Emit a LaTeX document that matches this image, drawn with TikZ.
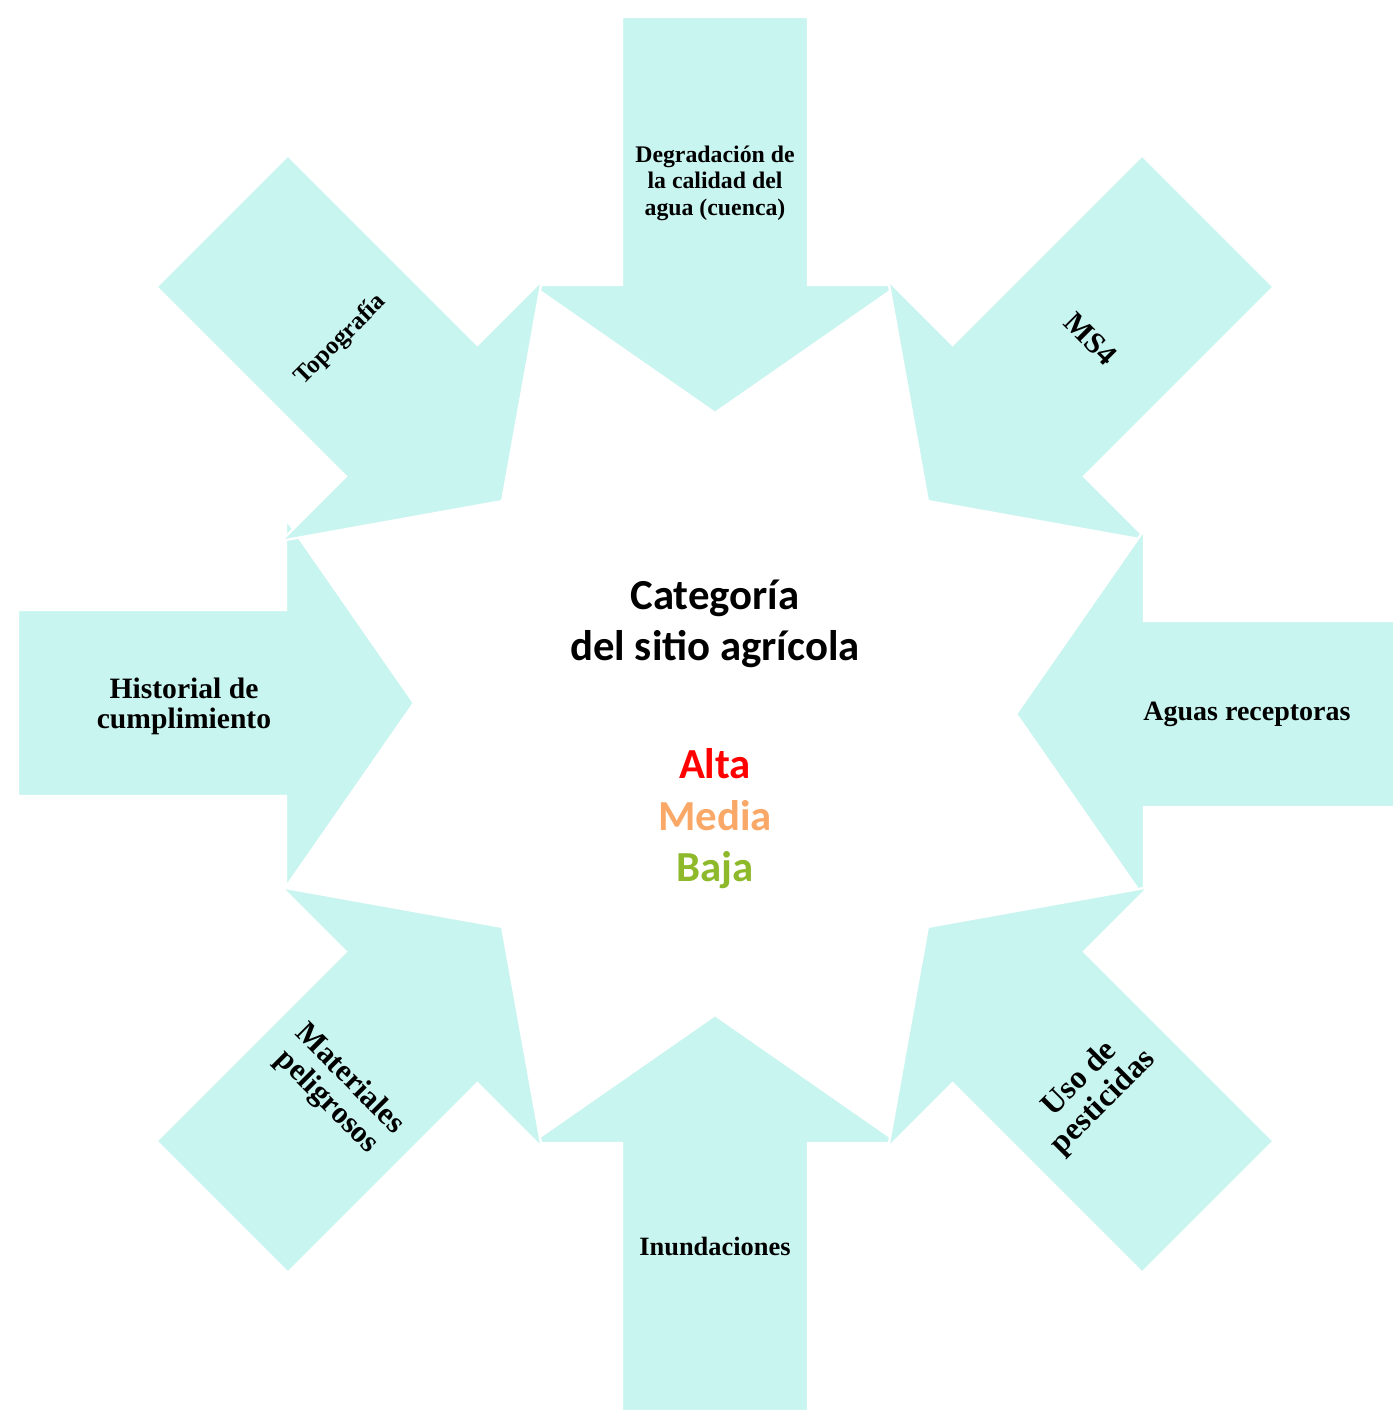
\documentclass[tikz,border=0pt]{standalone}
\usepackage{fontspec}
\setmainfont{Liberation Serif}
\newfontfamily\centrefont{Carlito}
\usepackage{tikz}
\definecolor{arrowfill}{RGB}{201,245,240}
\definecolor{altacol}{RGB}{255,0,0}
\definecolor{mediacol}{RGB}{250,168,104}
\definecolor{bajacol}{RGB}{141,185,42}
\tikzset{
  bigarrow/.style={fill=arrowfill,draw=white,line width=1.2pt},
  factor/.style={align=center,inner sep=0pt,font=\bfseries\fontsize{14}{15}\selectfont},
  central/.style={align=center,inner sep=0pt,font=\centrefont\bfseries\fontsize{21.4}{25.5}\selectfont}
}
\begin{document}
\begin{tikzpicture}[x=0.5pt,y=0.5pt]
\useasboundingbox (-715,-697) rectangle (677,714);
\coordinate (C) at (0,0);
% the eight arrows, in this order so that the overlaps come out right
\foreach \ang/\dy in {90/0,180/11,270/0,45/0,0/0,135/0,225/0,315/0}
  \draw[bigarrow,shift={(0,\dy)},rotate=\ang] (301,0) -- (429,184) -- (429,93) -- (697,93) -- (697,-93) -- (429,-93) -- (429,-184) -- cycle;

\node[factor,font=\bfseries\fontsize{11.9}{13.2}\selectfont] (degradacion) at (90:531) {Degradación de\\la calidad del\\agua (cuenca)};
\node[factor,rotate=45,font=\bfseries\fontsize{12.5}{14}\selectfont] (topografia) at (135:529) {Topografía};
\node[factor,rotate=-45,font=\bfseries\fontsize{15}{16}\selectfont] (ms4) at (45:531) {MS4};
\node[factor,font=\bfseries\fontsize{14.8}{15}\selectfont] (historial) at (-531,8) {Historial de\\cumplimiento};
\node[factor] (aguas) at (0:532) {Aguas receptoras};
\node[factor,rotate=-45,font=\bfseries\fontsize{15.5}{16}\selectfont] (materiales) at (225:533) {Materiales\\peligrosos};
\node[factor,rotate=45,font=\bfseries\fontsize{16}{16.5}\selectfont] (pesticidas) at (315:533) {Uso de\\pesticidas};
\node[factor,font=\bfseries\fontsize{13.2}{14}\selectfont] (inundaciones) at (270:532) {Inundaciones};

\node[central] (categoria) at (0,90) {Categoría\\del sitio agrícola};
\node[central,text=altacol,anchor=base] (alta) at (0,-65) {Alta};
\node[central,text=mediacol,anchor=base] (media) at (0,-117) {Media};
\node[central,text=bajacol,anchor=base] (baja) at (0,-168) {Baja};
\end{tikzpicture}
\end{document}
